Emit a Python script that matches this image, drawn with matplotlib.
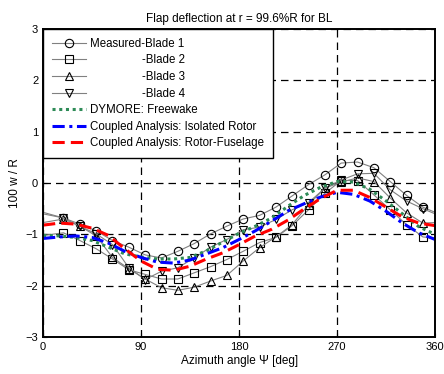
import matplotlib
matplotlib.use('Agg')
import matplotlib.pyplot as plt
import numpy as np

plt.rcParams['font.family'] = ['Liberation Sans', 'DejaVu Sans']

# measured blade data: end values at 0/360 deg, markers at 18.75 + 15k deg
meas_psi = [0.0, 18.75, 33.75, 48.75, 63.75, 78.75, 93.75, 108.75, 123.75,
            138.75, 153.75, 168.75, 183.75, 198.75, 213.75, 228.75, 243.75,
            258.75, 273.75, 288.75, 303.75, 318.75, 333.75, 348.75, 360.0]
blade1 = [-0.57, -0.68, -0.80, -0.93, -1.12, -1.25, -1.40, -1.46, -1.33,
          -1.18, -0.99, -0.84, -0.70, -0.63, -0.47, -0.25, -0.03,
          0.16, 0.39, 0.41, 0.30, 0.03, -0.24, -0.47, -0.57]
blade2 = [-1.02, -0.97, -1.12, -1.28, -1.48, -1.69, -1.78, -1.87, -1.87,
          -1.75, -1.63, -1.49, -1.33, -1.16, -1.06, -0.83, -0.52,
          -0.20, 0.05, 0.05, -0.23, -0.52, -0.81, -1.05, -1.07]
blade3 = [-0.77, -0.70, -0.84, -1.03, -1.45, -1.67, -1.87, -2.04, -2.09,
          -2.03, -1.91, -1.80, -1.52, -1.26, -1.05, -0.81, -0.42,
          -0.10, 0.02, 0.10, 0.03, -0.29, -0.58, -0.78, -0.77]
blade4 = [-0.60, -0.68, -0.84, -0.99, -1.20, -1.65, -1.88, -1.72, -1.65,
          -1.46, -1.25, -1.10, -0.91, -0.86, -0.71, -0.52, -0.38,
          -0.10, 0.06, 0.18, 0.19, -0.13, -0.35, -0.50, -0.60]

# analysis results every 15 deg
calc_psi = np.arange(0, 361, 15)
dymore = [-1.02, -1.03, -1.06, -1.12, -1.25, -1.38, -1.44, -1.48, -1.48,
          -1.45, -1.32, -1.15, -0.98, -0.84, -0.68, -0.45, -0.24, -0.08,
          0.03, 0.02, -0.12, -0.35, -0.60, -0.85, -1.00]
isolated = [-1.08, -1.05, -1.03, -1.06, -1.17, -1.33, -1.45, -1.54, -1.56,
            -1.50, -1.38, -1.26, -1.10, -0.93, -0.74, -0.54, -0.40, -0.27,
            -0.18, -0.22, -0.35, -0.55, -0.78, -0.97, -1.10]
fuselage = [-0.82, -0.78, -0.80, -0.88, -1.02, -1.28, -1.52, -1.68, -1.70,
            -1.62, -1.48, -1.36, -1.20, -1.03, -0.90, -0.72, -0.50, -0.30,
            -0.14, -0.14, -0.28, -0.47, -0.66, -0.78, -0.83]

pad = ' ' * 16  # blank space where "Measured" would sit
labels = ['Measured-Blade 1', pad + '-Blade 2', pad + '-Blade 3', pad + '-Blade 4',
          'DYMORE: Freewake', 'Coupled Analysis: Isolated Rotor',
          'Coupled Analysis: Rotor-Fuselage']

fig = plt.figure(figsize=(4.44, 3.74), dpi=100)
ax = fig.add_axes([0.097, 0.099, 0.883, 0.823])

meas = [(blade1, 'o'), (blade2, 's'), (blade3, '^'), (blade4, 'v')]
for i, (vals, mk) in enumerate(meas):
    ax.plot(meas_psi, vals, color='#808080', lw=0.8, marker=mk, ms=6,
            mfc='none', mec='black', mew=0.8, markevery=slice(1, -1),
            label=labels[i])

ax.plot(calc_psi, dymore, color='#2e8b57', lw=2.2, ls=(0, (1, 1.2)), label=labels[4])
ax.plot(calc_psi, isolated, color='#0000ff', lw=2.2, ls=(0, (4, 1.5, 1, 1.5)), label=labels[5])
ax.plot(calc_psi, fuselage, color='#ff0000', lw=2.2, ls=(0, (4, 2)), label=labels[6])

ax.set_xlim(0, 360)
ax.set_ylim(-3, 3)
ax.set_xticks([0, 90, 180, 270, 360])
ax.set_yticks([-3, -2, -1, 0, 1, 2, 3])
ax.grid(True, color='black', ls=(0, (6, 4)), lw=0.9)
ax.tick_params(direction='in', length=3, labelsize=8)
for s in ax.spines.values():
    s.set_linewidth(1.4)

ax.set_title('Flap deflection at r = 99.6%R for BL', fontsize=8.5, pad=5)
ax.set_xlabel('Azimuth angle \u03a8 [deg]', fontsize=8.5, labelpad=2)
ax.set_ylabel('100 w / R', fontsize=8.5, labelpad=3)

leg = ax.legend(loc='upper left', fontsize=8.3, frameon=True, fancybox=False,
                edgecolor='black', framealpha=1, borderaxespad=0,
                handlelength=3.0, labelspacing=0.4, borderpad=0.75,
                handletextpad=0.35)
leg.get_frame().set_linewidth(1.0)

fig.savefig('out.png', dpi=100)
